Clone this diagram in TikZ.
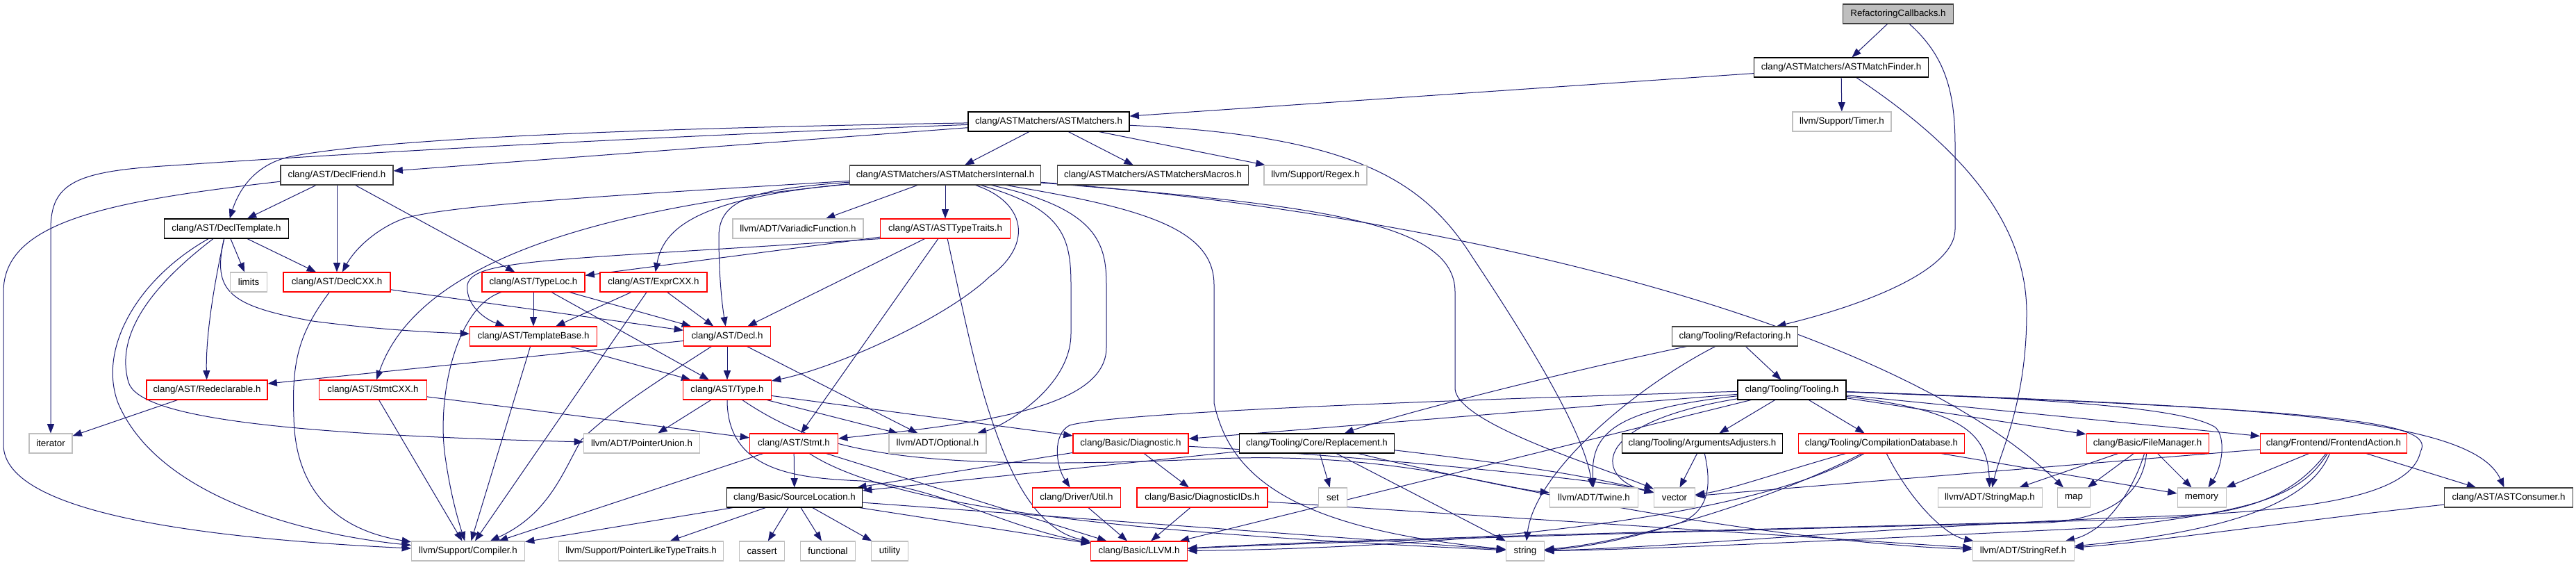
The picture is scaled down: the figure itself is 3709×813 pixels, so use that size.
\documentclass[tikz,border=0pt]{standalone}
\usepackage{fontspec}
\setmainfont{Liberation Sans}
\usetikzlibrary{arrows.meta}
\definecolor{edgec}{HTML}{191970}
\definecolor{redb}{HTML}{FF0000}
\definecolor{grayb}{HTML}{BFBFBF}
\definecolor{darkb}{HTML}{404040}
\definecolor{rootfill}{HTML}{BFBFBF}
\pgfdeclarelayer{bg}
\pgfsetlayers{bg,main}
\tikzset{
 box/.style={draw, line width=0.8pt, inner sep=0pt, minimum height=21pt, font=\fontsize{10}{12}\selectfont, fill=white},
 bk/.style={box, draw=black},
 dk/.style={box, draw=darkb},
 rd/.style={box, draw=redb},
 gy/.style={box, draw=grayb},
 rt/.style={box, draw=darkb, fill=rootfill},
 lnk/.style={draw=edgec, line width=0.75pt, -{Triangle[length=10pt,width=7.5pt]}},
}
\begin{document}
\begin{tikzpicture}[x=0.75pt,y=-0.75pt]
\useasboundingbox (0,0) rectangle (3709,813);
\node[rt, minimum width=119.25pt] (RC) at (2733,20) {RefactoringCallbacks.h};
\node[bk, minimum width=188.25pt] (AMF) at (2651,97) {clang/ASTMatchers/ASTMatchFinder.h};
\node[gy, minimum width=106.5pt] (Timer) at (2652,175) {llvm/Support/Timer.h};
\node[bk, minimum width=174pt] (AM) at (1510,175) {clang/ASTMatchers/ASTMatchers.h};
\node[dk, minimum width=121.5pt] (DFriend) at (485,252) {clang/AST/DeclFriend.h};
\node[dk, minimum width=206.25pt] (AMI) at (1361,252) {clang/ASTMatchers/ASTMatchersInternal.h};
\node[dk, minimum width=206.25pt] (AMM) at (1660,252) {clang/ASTMatchers/ASTMatchersMacros.h};
\node[gy, minimum width=111pt] (Regex) at (1894,252) {llvm/Support/Regex.h};
\node[bk, minimum width=134.25pt] (DTempl) at (326,329) {clang/AST/DeclTemplate.h};
\node[gy, minimum width=141pt] (Variadic) at (1149,329) {llvm/ADT/VariadicFunction.h};
\node[rd, minimum width=140.25pt] (ATT) at (1361,329) {clang/AST/ASTTypeTraits.h};
\node[gy, minimum width=39.75pt] (limits) at (358,406) {limits};
\node[rd, minimum width=115.5pt] (DCXX) at (485,406) {clang/AST/DeclCXX.h};
\node[rd, minimum width=111pt] (TypeLoc) at (768,406) {clang/AST/TypeLoc.h};
\node[rd, minimum width=115.5pt] (ExprCXX) at (941,406) {clang/AST/ExprCXX.h};
\node[rd, minimum width=137.25pt] (TBase) at (768,484) {clang/AST/TemplateBase.h};
\node[rd, minimum width=93.75pt] (Decl) at (1047,484) {clang/AST/Decl.h};
\node[dk, minimum width=135.75pt] (Refac) at (2498,484) {clang/Tooling/Refactoring.h};
\node[rd, minimum width=130.5pt] (Redecl) at (298,561) {clang/AST/Redeclarable.h};
\node[rd, minimum width=116.25pt] (StmtCXX) at (537,561) {clang/AST/StmtCXX.h};
\node[rd, minimum width=95.25pt] (Type) at (1047,561) {clang/AST/Type.h};
\node[bk, minimum width=117pt] (Tooling) at (2580,561) {clang/Tooling/Tooling.h};
\node[gy, minimum width=46.5pt] (iterator) at (73,638) {iterator};
\node[gy, minimum width=125.25pt] (PUnion) at (924,638) {llvm/ADT/PointerUnion.h};
\node[rd, minimum width=95.25pt] (Stmt) at (1143,638) {clang/AST/Stmt.h};
\node[gy, minimum width=105pt] (Optional) at (1350,638) {llvm/ADT/Optional.h};
\node[rd, minimum width=124.5pt] (Diag) at (1628,638) {clang/Basic/Diagnostic.h};
\node[bk, minimum width=167.25pt] (Repl) at (1896,638) {clang/Tooling/Core/Replacement.h};
\node[bk, minimum width=173.25pt] (ArgAdj) at (2451,638) {clang/Tooling/ArgumentsAdjusters.h};
\node[rd, minimum width=179.25pt] (CDB) at (2709,638) {clang/Tooling/CompilationDatabase.h};
\node[rd, minimum width=132pt] (FileMgr) at (3092,638) {clang/Basic/FileManager.h};
\node[rd, minimum width=158.25pt] (FEAction) at (3360,638) {clang/Frontend/FrontendAction.h};
\node[bk, minimum width=146.25pt] (SrcLoc) at (1144,716) {clang/Basic/SourceLocation.h};
\node[rd, minimum width=95.25pt] (Util) at (1550,716) {clang/Driver/Util.h};
\node[rd, minimum width=141pt] (DiagIDs) at (1731,716) {clang/Basic/DiagnosticIDs.h};
\node[gy, minimum width=30.75pt] (set) at (1919,716) {set};
\node[gy, minimum width=95.25pt] (Twine) at (2295,716) {llvm/ADT/Twine.h};
\node[gy, minimum width=44.25pt] (vector) at (2411,716) {vector};
\node[gy, minimum width=112.5pt] (SMap) at (2865,716) {llvm/ADT/StringMap.h};
\node[gy, minimum width=35.25pt] (map) at (2986,716) {map};
\node[gy, minimum width=52.5pt] (memory) at (3170,716) {memory};
\node[dk, minimum width=138.75pt] (ASTCons) at (3612,716) {clang/AST/ASTConsumer.h};
\node[gy, minimum width=122.25pt] (Compiler) at (674,793) {llvm/Support/Compiler.h};
\node[gy, minimum width=177.75pt] (PLTT) at (923,793) {llvm/Support/PointerLikeTypeTraits.h};
\node[gy, minimum width=48.75pt] (cassert) at (1097,793) {cassert};
\node[gy, minimum width=59.25pt] (functional) at (1192,793) {functional};
\node[gy, minimum width=39.75pt] (utility) at (1281,793) {utility};
\node[rd, minimum width=104.25pt] (LLVM) at (1640,793) {clang/Basic/LLVM.h};
\node[gy, minimum width=41.25pt] (string) at (2196,793) {string};
\node[gy, minimum width=109.5pt] (SRef) at (2913,793) {llvm/ADT/StringRef.h};
\begin{pgfonlayer}{bg}
% root
\draw[lnk] (RC) -- (AMF);
\draw[lnk] (RC) .. controls (2800,80) and (2815,130) .. (2815,210) -- (2815,330) .. controls (2815,390) and (2680,440) .. (Refac);
\draw[lnk] (AMF) -- (AM);
\draw[lnk] (AMF) -- (Timer);
\draw[lnk] (AMF) .. controls (2790,190) and (2918,300) .. (2918,450) .. controls (2918,580) and (2880,650) .. (SMap);
% ASTMatchers
\draw[lnk] (AM) -- (AMI);
\draw[lnk] (AM) -- (AMM);
\draw[lnk] (AM) -- (Regex);
\draw[lnk] (AM) -- (DFriend);
\draw[lnk] (AM) .. controls (900,185) and (550,200) .. (420,225) .. controls (370,235) and (345,270) .. (DTempl);
\draw[lnk] (AM) .. controls (900,198) and (450,224) .. (250,238) .. controls (110,246) and (73,262) .. (73,330) -- (iterator);
\draw[lnk] (AM) .. controls (1950,195) and (2050,260) .. (2120,370) .. controls (2200,490) and (2280,620) .. (Twine);
% ASTMatchersInternal
\draw[lnk] (AMI) -- (Variadic);
\draw[lnk] (AMI) -- (ATT);
\draw[lnk] (AMI) .. controls (900,280) and (640,295) .. (580,315) .. controls (540,330) and (510,360) .. (DCXX);
\draw[lnk] (AMI) .. controls (850,300) and (600,380) .. (StmtCXX);
\draw[lnk] (AMI) .. controls (1000,285) and (955,330) .. (ExprCXX);
\draw[lnk] (AMI) .. controls (1090,272) and (1035,285) .. (1035,340) .. controls (1035,400) and (1040,440) .. (Decl);
\draw[lnk] (AMI) .. controls (1475,290) and (1490,350) .. (1425,398) .. controls (1360,460) and (1200,530) .. (Type);
\draw[lnk] (AMI) .. controls (1530,300) and (1542,340) .. (1542,410) -- (1542,480) .. controls (1542,560) and (1440,615) .. (Optional);
\draw[lnk] (AMI) .. controls (1580,300) and (1593,350) .. (1593,410) -- (1593,500) .. controls (1593,590) and (1400,610) .. (Stmt);
\draw[lnk] (AMI) .. controls (1650,300) and (1748,330) .. (1748,410) -- (1748,580) .. controls (1770,680) and (1850,760) .. (string);
\draw[lnk] (AMI) .. controls (1900,295) and (2095,320) .. (2095,420) -- (2095,560) .. controls (2100,610) and (2300,670) .. (vector);
\draw[lnk] (AMI) .. controls (2000,300) and (2700,440) .. (map);
% DeclFriend
\draw[lnk] (DFriend) .. controls (150,290) and (5,320) .. (5,420) -- (5,640) .. controls (5,740) and (300,775) .. (Compiler);
\draw[lnk] (DFriend) -- (DTempl);
\draw[lnk] (DFriend) -- (DCXX);
\draw[lnk] (DFriend) -- (TypeLoc);
% DeclTemplate
\draw[lnk] (DTempl) -- (limits);
\draw[lnk] (DTempl) -- (DCXX);
\draw[lnk] (DTempl) .. controls (310,400) and (296,480) .. (Redecl);
\draw[lnk] (DTempl) .. controls (305,420) and (330,440) .. (450,462) .. controls (550,475) and (620,478) .. (TBase);
\draw[lnk] (DTempl) .. controls (220,410) and (165,480) .. (185,550) .. controls (200,600) and (400,625) .. (PUnion);
\draw[lnk] (DTempl) .. controls (200,400) and (140,500) .. (170,580) .. controls (230,720) and (450,770) .. (Compiler);
% DeclCXX
\draw[lnk] (DCXX) -- (Decl);
\draw[lnk] (DCXX) .. controls (430,480) and (420,520) .. (423,600) .. controls (425,720) and (500,765) .. (Compiler);
% TypeLoc
\draw[lnk] (TypeLoc) -- (TBase);
\draw[lnk] (TypeLoc) -- (Decl);
\draw[lnk] (TypeLoc) -- (Type);
\draw[lnk] (TypeLoc) .. controls (660,440) and (630,560) .. (640,650) .. controls (648,710) and (660,750) .. (Compiler);
% ExprCXX
\draw[lnk] (ExprCXX) -- (TBase);
\draw[lnk] (ExprCXX) -- (Decl);
\draw[lnk] (ExprCXX) -- (Compiler);
% ASTTypeTraits
\draw[lnk] (ATT) -- (TypeLoc);
\draw[lnk] (ATT.south west) .. controls (800,375) and (680,372) .. (673,410) .. controls (670,440) and (700,460) .. (TBase);
\draw[lnk] (ATT) -- (Decl);
\draw[lnk] (ATT) -- (Stmt);
\draw[lnk] (ATT) .. controls (1385,440) and (1405,540) .. (1430,610) .. controls (1460,700) and (1500,765) .. (LLVM);
% TemplateBase
\draw[lnk] (TBase) -- (Type);
\draw[lnk] (TBase) -- (Compiler);
% Decl
\draw[lnk] (Decl) -- (Type);
\draw[lnk] (Decl) -- (Redecl);
\draw[lnk] (Decl) .. controls (960,540) and (880,590) .. (837,633) .. controls (810,680) and (790,740) .. (Compiler);
\draw[lnk] (Decl) -- (Optional);
% Redeclarable, StmtCXX
\draw[lnk] (Redecl) -- (iterator);
\draw[lnk] (StmtCXX) -- (Stmt);
\draw[lnk] (StmtCXX) -- (Compiler);
% Type
\draw[lnk] (Type) -- (PUnion);
\draw[lnk] (Type) -- (Diag);
\draw[lnk] (Type) -- (Optional);
\draw[lnk] (Type) .. controls (1180,650) and (1300,680) .. (1750,660) .. controls (2000,650) and (2150,700) .. (Twine);
\draw[lnk] (Type) .. controls (1047,680) and (1150,688) .. (1240,692) .. controls (1350,700) and (1450,760) .. (LLVM);
% Stmt
\draw[lnk] (Stmt) -- (SrcLoc);
\draw[lnk] (Stmt) -- (Compiler);
\draw[lnk] (Stmt) -- (LLVM);
\draw[lnk] (Stmt) .. controls (1300,740) and (1700,770) .. (string);
% SourceLocation
\draw[lnk] (SrcLoc) -- (Compiler);
\draw[lnk] (SrcLoc) -- (PLTT);
\draw[lnk] (SrcLoc) -- (cassert);
\draw[lnk] (SrcLoc) -- (functional);
\draw[lnk] (SrcLoc) -- (utility);
\draw[lnk] (SrcLoc) -- (LLVM);
\draw[lnk] (SrcLoc) -- (string);
% Diagnostic
\draw[lnk] (Diag) -- (SrcLoc);
\draw[lnk] (Diag) -- (DiagIDs);
\draw[lnk] (Diag) .. controls (1900,652) and (2300,688) .. (vector);
% Replacement
\draw[lnk] (Repl) -- (SrcLoc);
\draw[lnk] (Repl) -- (set);
\draw[lnk] (Repl) -- (string);
\draw[lnk] (Repl) .. controls (2150,700) and (2550,780) .. (SRef);
\draw[lnk] (Repl.355) .. controls (2200,670) and (2300,688) .. (vector);
% Util, DiagnosticIDs
\draw[lnk] (Util) -- (LLVM);
\draw[lnk] (DiagIDs) -- (LLVM);
\draw[lnk] (DiagIDs) -- (SRef);
% Refactoring
\draw[lnk] (Refac) -- (Tooling);
\draw[lnk] (Refac) .. controls (2230,540) and (2000,600) .. (Repl);
\draw[lnk] (Refac) .. controls (2350,560) and (2210,680) .. (string);
% Tooling
\draw[lnk] (Tooling) -- (ArgAdj);
\draw[lnk] (Tooling) -- (CDB);
\draw[lnk] (Tooling) .. controls (2820,590) and (2862,620) .. (SMap);
\draw[lnk] (Tooling) -- (FileMgr);
\draw[lnk] (Tooling) .. controls (3000,575) and (3150,590) .. (3190,615) .. controls (3205,630) and (3200,670) .. (memory);
\draw[lnk] (Tooling) -- (FEAction);
\draw[lnk] (Tooling) .. controls (3250,585) and (3560,600) .. (ASTCons);
\draw[lnk] (Tooling) .. controls (3350,590) and (3510,605) .. (3485,650) .. controls (3470,720) and (3300,738) .. (3050,745) .. controls (2700,760) and (2400,788) .. (string);
\draw[lnk] (Tooling) -- (Diag);
\draw[lnk] (Tooling) .. controls (2000,578) and (1600,595) .. (1540,612) .. controls (1515,625) and (1520,670) .. (Util);
\draw[lnk] (Tooling) -- (LLVM);
\draw[lnk] (Tooling) .. controls (2320,590) and (2290,625) .. (Twine);
\draw[lnk] (Tooling) .. controls (2280,610) and (2300,690) .. (vector);
% ArgumentsAdjusters
\draw[lnk] (ArgAdj) -- (vector);
\draw[lnk] (ArgAdj) .. controls (2465,700) and (2460,735) .. (2420,752) .. controls (2350,775) and (2280,788) .. (string);
% CompilationDatabase
\draw[lnk] (CDB) .. controls (2560,680) and (2490,705) .. (vector);
\draw[lnk] (CDB) .. controls (2750,720) and (2800,770) .. (SRef);
\draw[lnk] (CDB) -- (memory);
\draw[lnk] (CDB) .. controls (2500,760) and (2000,790) .. (LLVM);
\draw[lnk] (CDB) .. controls (2550,720) and (2350,780) .. (string);
% FileManager
\draw[lnk] (FileMgr) -- (SMap);
\draw[lnk] (FileMgr) -- (map);
\draw[lnk] (FileMgr) -- (memory);
\draw[lnk] (FileMgr) .. controls (3070,710) and (3030,765) .. (SRef);
\draw[lnk] (FileMgr) .. controls (3085,710) and (3040,745) .. (2950,752) .. controls (2500,762) and (1900,780) .. (LLVM);
% FrontendAction
\draw[lnk] (FEAction) -- (memory);
\draw[lnk] (FEAction) -- (ASTCons);
\draw[lnk] (FEAction) -- (vector);
\draw[lnk] (FEAction) .. controls (3290,730) and (3200,745) .. (3050,748) .. controls (2600,760) and (1950,775) .. (LLVM);
\draw[lnk] (FEAction) .. controls (3320,740) and (3150,770) .. (SRef);
\draw[lnk] (FEAction) .. controls (3310,720) and (3230,735) .. (3050,758) .. controls (2700,775) and (2400,790) .. (string);
% ASTConsumer
\draw[lnk] (ASTCons) .. controls (3300,750) and (3100,780) .. (SRef);
\end{pgfonlayer}
\end{tikzpicture}
\end{document}
